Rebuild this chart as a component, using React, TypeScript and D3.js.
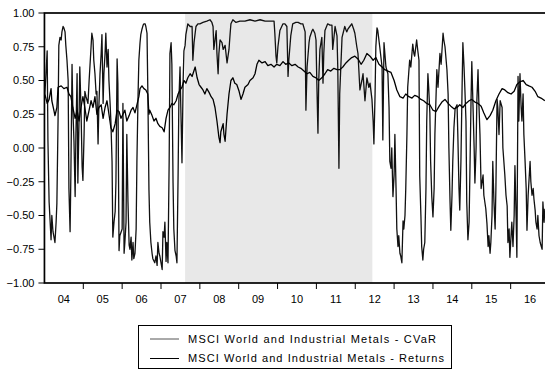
import React from "react";
import * as d3 from "d3";

// spiky series (decimal years / values)
const cvarDates = [
  2004.01, 2004.04, 2004.07, 2004.09, 2004.12, 2004.17, 2004.19, 2004.22, 2004.27, 2004.3, 2004.32, 2004.35,
  2004.37, 2004.4, 2004.43, 2004.45, 2004.48, 2004.5, 2004.53, 2004.55, 2004.58, 2004.61, 2004.63, 2004.66,
  2004.68, 2004.71, 2004.73, 2004.76, 2004.79, 2004.81, 2004.84, 2004.86, 2004.89, 2004.91, 2004.94, 2004.97,
  2004.99, 2005.02, 2005.04, 2005.07, 2005.12, 2005.15, 2005.2, 2005.22, 2005.25, 2005.27, 2005.3, 2005.33,
  2005.35, 2005.38, 2005.4, 2005.43, 2005.46, 2005.48, 2005.51, 2005.53, 2005.56, 2005.58, 2005.61, 2005.64,
  2005.66, 2005.69, 2005.71, 2005.74, 2005.76, 2005.79, 2005.82, 2005.84, 2005.87, 2005.89, 2005.92, 2005.94,
  2006.0, 2006.02, 2006.05, 2006.07, 2006.1, 2006.12, 2006.15, 2006.18, 2006.2, 2006.23, 2006.25, 2006.28,
  2006.3, 2006.33, 2006.36, 2006.38, 2006.41, 2006.43, 2006.46, 2006.48, 2006.51, 2006.54, 2006.56, 2006.59,
  2006.61, 2006.64, 2006.66, 2006.69, 2006.71, 2006.74, 2006.77, 2006.79, 2006.84, 2006.87, 2006.9, 2006.92,
  2006.95, 2006.97, 2007.0, 2007.03, 2007.05, 2007.08, 2007.1, 2007.13, 2007.15, 2007.18, 2007.21, 2007.23,
  2007.26, 2007.28, 2007.31, 2007.33, 2007.36, 2007.39, 2007.41, 2007.44, 2007.46, 2007.49, 2007.51, 2007.54,
  2007.57, 2007.59, 2007.62, 2007.64, 2007.69, 2007.75, 2007.8, 2007.82, 2007.85, 2007.9, 2007.95, 2008.0,
  2008.08, 2008.18, 2008.26, 2008.31, 2008.34, 2008.36, 2008.39, 2008.42, 2008.44, 2008.47, 2008.49, 2008.52,
  2008.57, 2008.6, 2008.65, 2008.7, 2008.75, 2008.78, 2008.8, 2008.85, 2008.93, 2009.03, 2009.16, 2009.29,
  2009.42, 2009.55, 2009.68, 2009.8, 2009.91, 2009.93, 2009.96, 2009.98, 2010.01, 2010.06, 2010.14, 2010.19,
  2010.24, 2010.27, 2010.29, 2010.34, 2010.39, 2010.47, 2010.53, 2010.6, 2010.65, 2010.71, 2010.73, 2010.76,
  2010.81, 2010.83, 2010.89, 2010.91, 2010.96, 2010.99, 2011.01, 2011.04, 2011.06, 2011.09, 2011.14, 2011.17,
  2011.19, 2011.22, 2011.29, 2011.35, 2011.4, 2011.42, 2011.48, 2011.53, 2011.55, 2011.58, 2011.6, 2011.66,
  2011.73, 2011.78, 2011.81, 2011.86, 2011.91, 2011.96, 2011.99, 2012.04, 2012.07, 2012.12, 2012.17, 2012.2,
  2012.25, 2012.3, 2012.35, 2012.38, 2012.43, 2012.46, 2012.48, 2012.51, 2012.53, 2012.56, 2012.58, 2012.63,
  2012.69, 2012.71, 2012.74, 2012.79, 2012.84, 2012.87, 2012.89, 2012.92, 2012.94, 2012.97, 2013.0, 2013.02,
  2013.05, 2013.07, 2013.1, 2013.12, 2013.15, 2013.17, 2013.2, 2013.23, 2013.25, 2013.28, 2013.3, 2013.33,
  2013.35, 2013.4, 2013.43, 2013.48, 2013.51, 2013.53, 2013.58, 2013.61, 2013.64, 2013.66, 2013.69, 2013.71,
  2013.74, 2013.76, 2013.79, 2013.82, 2013.84, 2013.87, 2013.89, 2013.92, 2013.94, 2013.97, 2014.0, 2014.03,
  2014.05, 2014.1, 2014.13, 2014.18, 2014.21, 2014.26, 2014.28, 2014.31, 2014.36, 2014.39, 2014.41, 2014.44,
  2014.46, 2014.49, 2014.51, 2014.54, 2014.57, 2014.62, 2014.64, 2014.67, 2014.69, 2014.72, 2014.75, 2014.77,
  2014.8, 2014.82, 2014.85, 2014.87, 2014.9, 2014.93, 2014.95, 2014.98, 2015.0, 2015.03, 2015.06, 2015.08,
  2015.11, 2015.13, 2015.16, 2015.18, 2015.21, 2015.24, 2015.29, 2015.31, 2015.36, 2015.39, 2015.42, 2015.44,
  2015.47, 2015.49, 2015.52, 2015.54, 2015.57, 2015.6, 2015.62, 2015.65, 2015.67, 2015.7, 2015.73, 2015.78,
  2015.8, 2015.85, 2015.88, 2015.91, 2015.93, 2015.96, 2015.98, 2016.01, 2016.03, 2016.06, 2016.09, 2016.11,
  2016.14, 2016.16, 2016.19, 2016.21, 2016.24, 2016.27, 2016.29, 2016.32, 2016.34, 2016.37, 2016.4, 2016.42,
  2016.45, 2016.47, 2016.5, 2016.52, 2016.55, 2016.58, 2016.6, 2016.63, 2016.65, 2016.68, 2016.7, 2016.73,
  2016.76, 2016.78, 2016.81, 2016.83, 2016.86, 2016.88,
];
const cvarValues = [
  0.4, 0.55, 0.72, 0.05, -0.4, -0.68, -0.5, -0.62, -0.7, -0.55, -0.41, 0.2,
  0.76, 0.82, 0.8, 0.86, 0.9, 0.89, 0.86, 0.76, 0.65, 0.5, -0.3, -0.62,
  -0.2, 0.62, 0.3, 0.05, -0.36, 0.1, 0.55, -0.26, 0.2, 0.6, 0.3, -0.14,
  -0.24, 0.1, 0.42, 0.38, 0.33, 0.5, 0.75, 0.85, 0.8, 0.65, 0.55, 0.4,
  0.42, 0.03, 0.3, 0.55, 0.7, 0.84, 0.33, 0.55, 0.7, 0.85, 0.6, 0.73,
  0.5, 0.33, 0.2, -0.1, -0.66, -0.55, -0.47, -0.25, 0.66, 0.48, -0.76, -0.65,
  -0.6, 0.33, -0.78, -0.7, -0.55, 0.1, -0.4, -0.72, -0.75, -0.66, -0.83, -0.7,
  -0.82, -0.78, -0.6, -0.1, 0.4, 0.65, 0.78, 0.84, 0.88, 0.91, 0.92, 0.92,
  0.9, 0.85, 0.45, -0.31, -0.55, -0.7, -0.78, -0.82, -0.85, -0.8, -0.87, -0.7,
  -0.78, -0.8, -0.85, -0.9, -0.62, -0.66, -0.55, -0.84, -0.7, -0.85, -0.1, 0.7,
  0.78, 0.62, -0.26, -0.6, -0.76, -0.8, -0.85, -0.2, 0.35, 0.6, 0.3, -0.11,
  0.5, 0.72, 0.76, 0.84, 0.92, 0.9, 0.9, 0.65, 0.78, 0.9, 0.92, 0.92,
  0.93, 0.94, 0.95, 0.93, 0.9, 0.73, 0.8, 0.87, 0.7, 0.55, 0.7, 0.8,
  0.78, 0.73, 0.76, 0.63, 0.73, 0.85, 0.92, 0.95, 0.93, 0.94, 0.94, 0.95,
  0.94, 0.95, 0.94, 0.94, 0.94, 0.85, 0.68, 0.63, 0.75, 0.87, 0.92, 0.92,
  0.9, 0.53, 0.65, 0.83, 0.92, 0.93, 0.93, 0.92, 0.92, 0.86, 0.28, 0.6,
  0.78, 0.82, 0.87, 0.88, 0.85, 0.8, 0.5, 0.11, 0.5, 0.73, 0.82, 0.48,
  0.7, 0.87, 0.92, 0.91, 0.91, 0.73, 0.9, 0.83, 0.6, -0.15, 0.4, 0.82,
  0.9, 0.86, 0.88, 0.9, 0.92, 0.88, 0.85, 0.75, 0.7, 0.43, 0.5, 0.55,
  0.35, 0.52, 0.45, 0.48, 0.36, 0.2, 0.03, 0.4, 0.75, 0.89, 0.87, 0.75,
  0.6, 0.06, 0.78, 0.6, 0.55, 0.3, -0.1, -0.15, 0.0, -0.36, -0.2, 0.1,
  -0.3, -0.6, -0.73, -0.65, -0.78, -0.8, -0.85, -0.54, -0.6, -0.5, -0.3, 0.1,
  0.45, 0.65, 0.6, 0.77, 0.7, 0.68, 0.8, 0.72, 0.65, -0.21, -0.5, -0.73,
  -0.83, -0.75, -0.7, -0.3, 0.2, 0.55, 0.45, 0.26, -0.1, -0.36, -0.51, -0.3,
  0.1, 0.58, 0.45, 0.7, 0.62, 0.85, 0.8, 0.75, 0.58, 0.4, 0.0, -0.4,
  -0.61, -0.35, -0.1, 0.15, 0.29, 0.32, 0.1, -0.3, -0.46, -0.1, 0.45, 0.78,
  0.6, 0.45, 0.2, -0.4, -0.68, -0.55, -0.2, 0.35, 0.64, 0.32, 0.0, -0.26,
  0.0, 0.35, 0.58, 0.35, 0.1, -0.3, -0.2, -0.35, -0.45, -0.56, -0.73, -0.65,
  -0.78, -0.7, -0.5, -0.1, -0.4, -0.6, -0.3, 0.36, 0.3, 0.1, 0.35, 0.3,
  0.0, -0.2, -0.35, -0.43, -0.7, -0.6, -0.81, -0.65, -0.55, -0.73, -0.5, -0.13,
  -0.5, -0.81, 0.53, 0.2, 0.55, 0.3, 0.2, 0.4, 0.1, -0.09, -0.3, -0.61,
  -0.35, -0.25, -0.1, -0.25, -0.35, -0.3, -0.38, -0.46, -0.55, -0.6, -0.5, -0.65,
  -0.7, -0.72, -0.75, -0.4, -0.55, -0.45,
];

// smoother series
const retDates = [
  2004.01, 2004.07, 2004.12, 2004.17, 2004.19, 2004.25, 2004.27, 2004.32, 2004.35, 2004.43, 2004.5, 2004.58,
  2004.63, 2004.68, 2004.73, 2004.79, 2004.84, 2004.89, 2004.94, 2004.99, 2005.04, 2005.09, 2005.15, 2005.2,
  2005.25, 2005.3, 2005.35, 2005.4, 2005.46, 2005.51, 2005.56, 2005.61, 2005.66, 2005.71, 2005.76, 2005.82,
  2005.87, 2005.92, 2005.97, 2006.02, 2006.07, 2006.12, 2006.18, 2006.23, 2006.28, 2006.33, 2006.38, 2006.43,
  2006.46, 2006.51, 2006.56, 2006.61, 2006.66, 2006.69, 2006.71, 2006.77, 2006.82, 2006.87, 2006.92, 2006.97,
  2007.03, 2007.08, 2007.13, 2007.18, 2007.23, 2007.28, 2007.33, 2007.39, 2007.44, 2007.49, 2007.54, 2007.59,
  2007.64, 2007.69, 2007.75, 2007.8, 2007.88, 2007.93, 2007.98, 2008.03, 2008.08, 2008.13, 2008.18, 2008.24,
  2008.29, 2008.34, 2008.39, 2008.44, 2008.49, 2008.52, 2008.54, 2008.6, 2008.62, 2008.65, 2008.7, 2008.75,
  2008.8, 2008.85, 2008.9, 2008.95, 2009.01, 2009.06, 2009.11, 2009.16, 2009.24, 2009.29, 2009.37, 2009.42,
  2009.47, 2009.52, 2009.6, 2009.68, 2009.75, 2009.83, 2009.91, 2009.98, 2010.06, 2010.14, 2010.21, 2010.29,
  2010.37, 2010.45, 2010.53, 2010.6, 2010.68, 2010.76, 2010.83, 2010.91, 2010.99, 2011.06, 2011.14, 2011.22,
  2011.29, 2011.37, 2011.45, 2011.53, 2011.6, 2011.68, 2011.76, 2011.83, 2011.91, 2011.99, 2012.07, 2012.15,
  2012.22, 2012.3, 2012.38, 2012.46, 2012.53, 2012.61, 2012.69, 2012.76, 2012.84, 2012.92, 2013.0, 2013.07,
  2013.15, 2013.23, 2013.3, 2013.38, 2013.46, 2013.53, 2013.61, 2013.69, 2013.76, 2013.84, 2013.92, 2014.0,
  2014.08, 2014.16, 2014.23, 2014.31, 2014.39, 2014.46, 2014.54, 2014.62, 2014.69, 2014.77, 2014.85, 2014.93,
  2015.0, 2015.08, 2015.16, 2015.24, 2015.31, 2015.39, 2015.47, 2015.54, 2015.62, 2015.7, 2015.78, 2015.85,
  2015.93, 2016.01, 2016.09, 2016.16, 2016.24, 2016.32, 2016.4, 2016.47, 2016.55, 2016.63, 2016.7, 2016.78,
  2016.88,
];
const retValues = [
  0.4, 0.33, 0.36, 0.44, 0.35, 0.27, 0.24, 0.3, 0.45, 0.46, 0.44, 0.45,
  0.4, 0.38, 0.3, 0.22, 0.28, 0.2, 0.3, 0.38, 0.3, 0.2, 0.28, 0.35,
  0.3, 0.38, 0.25, 0.3, 0.32, 0.22, 0.3, 0.35, 0.25, 0.15, 0.12, 0.18,
  0.28, 0.27, 0.22, 0.25, 0.28, 0.2, 0.24, 0.28, 0.3, 0.26, 0.32, 0.38,
  0.44, 0.46, 0.44, 0.43, 0.4, 0.25, 0.28, 0.24, 0.2, 0.22, 0.18, 0.16,
  0.15, 0.12, 0.22, 0.28, 0.3, 0.33, 0.32, 0.35, 0.4, 0.43, 0.45, 0.5,
  0.48, 0.52, 0.55, 0.53, 0.6, 0.52, 0.47, 0.45, 0.43, 0.4, 0.44, 0.41,
  0.38, 0.36, 0.3, 0.2, 0.08, 0.04, 0.12, 0.18, 0.1, 0.05, 0.25, 0.4,
  0.5, 0.52, 0.48, 0.47, 0.42, 0.36, 0.4, 0.45, 0.47, 0.5, 0.52, 0.55,
  0.62, 0.65, 0.63, 0.64, 0.61, 0.62, 0.6, 0.62, 0.61, 0.64, 0.62, 0.63,
  0.61, 0.62, 0.6, 0.59, 0.57, 0.55, 0.56, 0.53, 0.52, 0.5, 0.52, 0.55,
  0.58, 0.57, 0.59, 0.58, 0.58, 0.6, 0.63, 0.65, 0.67, 0.68, 0.66, 0.62,
  0.65, 0.7, 0.68, 0.65, 0.67, 0.62, 0.6, 0.58, 0.57, 0.56, 0.5, 0.43,
  0.38, 0.37, 0.4, 0.38, 0.37, 0.39, 0.38, 0.36, 0.35, 0.33, 0.32, 0.28,
  0.27, 0.31, 0.34, 0.36, 0.33, 0.31, 0.29, 0.3, 0.32, 0.3, 0.33, 0.35,
  0.36, 0.34, 0.33, 0.31, 0.26, 0.21, 0.24, 0.28, 0.35, 0.4, 0.44, 0.43,
  0.41, 0.4, 0.42, 0.47, 0.49, 0.5, 0.47, 0.46, 0.45, 0.42, 0.38, 0.37,
  0.35,
];

const shadeStart = 2007.62;
const shadeEnd = 2012.44;
const yearTicks = [2005, 2006, 2007, 2008, 2009, 2010, 2011, 2012, 2013, 2014, 2015, 2016];
const yearLabels = ["04", "05", "06", "07", "08", "09", "10", "11", "12", "13", "14", "15", "16"];
const yTicks = [-1, -0.75, -0.5, -0.25, 0, 0.25, 0.5, 0.75, 1];
const legendLabels = [
  "MSCI World and Industrial Metals - CVaR",
  "MSCI World and Industrial Metals - Returns",
];
const legendWidths = [248, 256];

const W = 545;
const H = 370;
const left = 44.45;
const top = 13;
const bottom = 283;
const right = 546.4;
const font = "'Liberation Sans', Arial, sans-serif";

export default function App() {
  const x = d3.scaleLinear().domain([2004, 2016.92]).range([left, right]);
  const y = d3.scaleLinear().domain([-1, 1]).range([bottom, top]);

  const line = d3
    .line<[number, number]>()
    .x((d) => x(d[0]))
    .y((d) => y(d[1]));

  const cvar = cvarDates.map((d, i) => [d, cvarValues[i]] as [number, number]);
  const ret = retDates.map((d, i) => [d, retValues[i]] as [number, number]);

  return (
    <svg
      width={W}
      height={H}
      style={{ position: "absolute", left: 0, top: 0, background: "#fff" }}
      fontFamily={font}
    >
      <defs>
        <clipPath id="plot">
          <rect x={left} y={top} width={right - left} height={bottom - top} />
        </clipPath>
      </defs>
      <rect
        x={x(shadeStart)}
        y={top}
        width={x(shadeEnd) - x(shadeStart)}
        height={bottom - top}
        fill="#e8e8e8"
      />
      <g clipPath="url(#plot)" fill="none" strokeLinejoin="round">
        <path d={line(cvar) ?? ""} stroke="#111" strokeWidth={1.3} />
        <path d={line(ret) ?? ""} stroke="#000" strokeWidth={1.3} />
      </g>

      {/* frame */}
      <rect
        x={left}
        y={top}
        width={right - left}
        height={bottom - top}
        fill="none"
        stroke="#000"
        strokeWidth={1.7}
      />

      {/* y axis */}
      {yTicks.map((t) => (
        <g key={t}>
          <line x1={left - 6} x2={left} y1={y(t)} y2={y(t)} stroke="#000" strokeWidth={1} />
          <text
            x={left - 10}
            y={y(t)}
            dy="0.35em"
            textAnchor="end"
            fontSize={11}
            fill="#000"
          >
            {d3.format(".2f")(t)}
          </text>
        </g>
      ))}

      {/* x axis */}
      {yearTicks.map((t) => (
        <line key={t} x1={x(t)} x2={x(t)} y1={bottom} y2={bottom + 6} stroke="#000" strokeWidth={1} />
      ))}
      {yearLabels.map((l, i) => (
        <text key={l} x={x(2004 + i + 0.5)} y={303} textAnchor="middle" fontSize={11} fill="#000">
          {l}
        </text>
      ))}

      {/* legend */}
      <rect x={138.5} y={325.5} width={313} height={43} fill="#fff" stroke="#000" strokeWidth={1} />
      {legendLabels.map((l, i) => (
        <g key={l}>
          <line
            x1={150}
            x2={179}
            y1={339 + i * 19.5}
            y2={339 + i * 19.5}
            stroke={i === 0 ? "#555" : "#000"}
            strokeWidth={1}
          />
          <text
            x={188}
            y={339 + i * 19.5}
            dy="0.35em"
            fontSize={11}
            fill="#000"
            textLength={legendWidths[i]}
            lengthAdjust="spacing"
          >
            {l}
          </text>
        </g>
      ))}
    </svg>
  );
}
